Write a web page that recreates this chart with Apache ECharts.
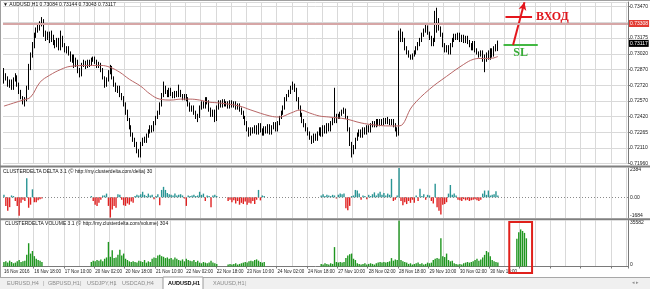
<!DOCTYPE html>
<html>
<head>
<meta charset="utf-8">
<script src="https://cdn.jsdelivr.net/npm/echarts@6.0.0/dist/echarts.min.js"></script>
<style>
html,body{margin:0;padding:0;background:#fff;overflow:hidden}
#chart{width:650px;height:289px}
</style>
</head>
<body>
<div id="chart"></div>
<script>
// ---------------- data ----------------
const symbolTitle = '▼ AUDUSD,H1 0.73084 0.73144 0.73043 0.73117';
const deltaTitle = 'CLUSTERDELTA DELTA 3.1 (© http://my.clusterdelta.com/delta) 30';
const volumeTitle = 'CLUSTERDELTA VOLUME 3.1 (© http://my.clusterdelta.com/volume) 304';

const xTickLabels = ['16 Nov 2016','16 Nov 18:00','17 Nov 10:00','20 Nov 02:00','20 Nov 18:00','21 Nov 10:00',
  '22 Nov 02:00','22 Nov 18:00','23 Nov 10:00','24 Nov 02:00','24 Nov 18:00','27 Nov 10:00','28 Nov 02:00',
  '28 Nov 18:00','29 Nov 10:00','30 Nov 02:00','30 Nov 18:00'];
const priceTickLabels = ['0.71960','0.72110','0.72265','0.72420','0.72570','0.72720','0.72870','0.73020','0.73175','','0.73470'];

// [open, close, low, high]
const candles = [
[0.7275,0.7281,0.7273,0.7288],[0.7281,0.7279,0.7276,0.7283],[0.7279,0.7272,0.7270,0.7280],[0.7272,0.7275,0.7269,0.7277],
[0.7275,0.7269,0.7267,0.7277],[0.7269,0.7277,0.7267,0.7279],[0.7277,0.7280,0.7275,0.7283],[0.7280,0.7272,0.7270,0.7281],
[0.7272,0.7265,0.7263,0.7274],[0.7265,0.7260,0.7258,0.7267],[0.7260,0.7256,0.7253,0.7261],[0.7256,0.7258,0.7251,0.7260],
[0.7258,0.7269,0.7256,0.7271],[0.7269,0.7289,0.7267,0.7292],[0.7289,0.7301,0.7286,0.7303],[0.7301,0.7310,0.7298,0.7313],
[0.7310,0.7319,0.7307,0.7322],[0.7319,0.7324,0.7317,0.7327],[0.7324,0.7327,0.7322,0.7330],[0.7327,0.7330,0.7324,0.7333],
[0.7330,0.7334,0.7328,0.7337],[0.7334,0.7320,0.7318,0.7335],[0.7320,0.7317,0.7314,0.7324],[0.7317,0.7322,0.7315,0.7323],
[0.7322,0.7315,0.7312,0.7323],[0.7315,0.7318,0.7313,0.7324],[0.7318,0.7313,0.7310,0.7320],[0.7313,0.7310,0.7307,0.7315],
[0.7310,0.7315,0.7308,0.7317],[0.7315,0.7307,0.7305,0.7317],[0.7307,0.7317,0.7305,0.7324],[0.7317,0.7310,0.7308,0.7319],
[0.7310,0.7305,0.7303,0.7312],[0.7305,0.7307,0.7302,0.7309],[0.7307,0.7302,0.7300,0.7309],[0.7302,0.7296,0.7294,0.7304],
[0.7296,0.7300,0.7293,0.7301],[0.7300,0.7291,0.7288,0.7301],[0.7291,0.7294,0.7289,0.7298],[0.7294,0.7286,0.7283,0.7296],
[0.7286,0.7280,0.7279,0.7288],[0.7280,0.7291,0.7280,0.7293],[0.7291,0.7293,0.7289,0.7296],[0.7293,0.7289,0.7287,0.7295],
[0.7289,0.7294,0.7288,0.7296],[0.7294,0.7291,0.7289,0.7296],[0.7291,0.7296,0.7290,0.7298],[0.7296,0.7298,0.7294,0.7299],
[0.7298,0.7294,0.7292,0.7299],[0.7294,0.7290,0.7288,0.7296],[0.7290,0.7292,0.7288,0.7294],[0.7292,0.7286,0.7284,0.7293],
[0.7286,0.7279,0.7277,0.7288],[0.7279,0.7271,0.7269,0.7280],[0.7271,0.7277,0.7270,0.7279],[0.7277,0.7284,0.7275,0.7286],
[0.7284,0.7289,0.7282,0.7291],[0.7289,0.7279,0.7277,0.7290],[0.7279,0.7272,0.7270,0.7280],[0.7272,0.7267,0.7265,0.7274],
[0.7267,0.7269,0.7264,0.7271],[0.7269,0.7262,0.7260,0.7271],[0.7262,0.7260,0.7257,0.7264],[0.7260,0.7253,0.7251,0.7261],
[0.7253,0.7246,0.7243,0.7255],[0.7246,0.7239,0.7237,0.7248],[0.7239,0.7231,0.7229,0.7240],[0.7231,0.7224,0.7222,0.7233],
[0.7224,0.7219,0.7217,0.7226],[0.7219,0.7215,0.7212,0.7221],[0.7215,0.7208,0.7206,0.7217],[0.7208,0.7203,0.7202,0.7210],
[0.7203,0.7215,0.7202,0.7217],[0.7215,0.7219,0.7213,0.7221],[0.7219,0.7218,0.7216,0.7222],[0.7218,0.7223,0.7216,0.7225],
[0.7223,0.7227,0.7221,0.7229],[0.7227,0.7231,0.7225,0.7233],[0.7231,0.7229,0.7226,0.7233],[0.7229,0.7235,0.7227,0.7237],
[0.7235,0.7240,0.7233,0.7242],[0.7240,0.7245,0.7239,0.7247],[0.7245,0.7253,0.7243,0.7255],[0.7253,0.7262,0.7251,0.7264],
[0.7262,0.7269,0.7260,0.7275],[0.7269,0.7265,0.7263,0.7271],[0.7265,0.7262,0.7260,0.7267],[0.7262,0.7267,0.7260,0.7269],
[0.7267,0.7263,0.7261,0.7269],[0.7263,0.7260,0.7259,0.7265],[0.7260,0.7264,0.7259,0.7266],[0.7264,0.7261,0.7260,0.7266],
[0.7261,0.7265,0.7260,0.7272],[0.7265,0.7261,0.7260,0.7267],[0.7261,0.7259,0.7257,0.7263],[0.7259,0.7261,0.7257,0.7263],
[0.7261,0.7258,0.7256,0.7263],[0.7258,0.7253,0.7251,0.7260],[0.7253,0.7248,0.7246,0.7255],[0.7248,0.7250,0.7246,0.7252],
[0.7250,0.7245,0.7243,0.7252],[0.7245,0.7240,0.7239,0.7247],[0.7240,0.7242,0.7236,0.7244],[0.7242,0.7250,0.7240,0.7252],
[0.7250,0.7254,0.7248,0.7256],[0.7254,0.7251,0.7249,0.7256],[0.7251,0.7258,0.7249,0.7260],[0.7258,0.7255,0.7253,0.7260],
[0.7255,0.7248,0.7246,0.7257],[0.7248,0.7243,0.7241,0.7250],[0.7243,0.7246,0.7241,0.7248],[0.7246,0.7239,0.7236,0.7248],
[0.7239,0.7250,0.7237,0.7252],[0.7250,0.7255,0.7248,0.7257],[0.7255,0.7252,0.7250,0.7257],[0.7252,0.7256,0.7250,0.7258],
[0.7256,0.7253,0.7251,0.7258],[0.7253,0.7254,0.7251,0.7256],[0.7254,0.7251,0.7249,0.7256],[0.7251,0.7255,0.7249,0.7257],
[0.7255,0.7252,0.7250,0.7257],[0.7252,0.7254,0.7250,0.7256],[0.7254,0.7250,0.7248,0.7256],[0.7250,0.7252,0.7248,0.7254],
[0.7252,0.7248,0.7246,0.7254],[0.7248,0.7245,0.7243,0.7250],[0.7245,0.7240,0.7239,0.7247],[0.7240,0.7235,0.7233,0.7242],
[0.7235,0.7229,0.7227,0.7237],[0.7229,0.7225,0.7222,0.7231],[0.7225,0.7229,0.7223,0.7231],[0.7229,0.7227,0.7225,0.7231],
[0.7227,0.7231,0.7225,0.7233],[0.7231,0.7226,0.7224,0.7233],[0.7226,0.7233,0.7224,0.7235],[0.7233,0.7228,0.7226,0.7235],
[0.7228,0.7225,0.7223,0.7230],[0.7225,0.7230,0.7223,0.7232],[0.7230,0.7227,0.7225,0.7232],[0.7227,0.7232,0.7225,0.7234],
[0.7232,0.7226,0.7224,0.7234],[0.7226,0.7231,0.7224,0.7233],[0.7231,0.7234,0.7229,0.7236],[0.7234,0.7229,0.7227,0.7236],
[0.7229,0.7235,0.7227,0.7237],[0.7235,0.7240,0.7233,0.7242],[0.7240,0.7245,0.7239,0.7247],[0.7245,0.7250,0.7243,0.7252],
[0.7250,0.7258,0.7248,0.7260],[0.7258,0.7261,0.7256,0.7263],[0.7261,0.7265,0.7260,0.7267],[0.7265,0.7269,0.7263,0.7271],
[0.7269,0.7272,0.7267,0.7275],[0.7272,0.7267,0.7265,0.7273],[0.7267,0.7258,0.7256,0.7269],[0.7258,0.7250,0.7248,0.7260],
[0.7250,0.7243,0.7241,0.7252],[0.7243,0.7237,0.7235,0.7245],[0.7237,0.7233,0.7231,0.7239],[0.7233,0.7229,0.7227,0.7235],
[0.7229,0.7225,0.7223,0.7231],[0.7225,0.7221,0.7219,0.7227],[0.7221,0.7218,0.7215,0.7223],[0.7218,0.7223,0.7216,0.7225],
[0.7223,0.7219,0.7218,0.7225],[0.7219,0.7225,0.7218,0.7227],[0.7225,0.7229,0.7223,0.7231],[0.7229,0.7224,0.7222,0.7231],
[0.7224,0.7231,0.7222,0.7233],[0.7231,0.7227,0.7225,0.7233],[0.7227,0.7233,0.7225,0.7235],[0.7233,0.7229,0.7227,0.7235],
[0.7229,0.7235,0.7227,0.7237],[0.7235,0.7239,0.7233,0.7240],[0.7239,0.7237,0.7235,0.7269],[0.7237,0.7242,0.7235,0.7244],
[0.7242,0.7240,0.7239,0.7244],[0.7240,0.7244,0.7239,0.7246],[0.7244,0.7246,0.7242,0.7248],[0.7246,0.7248,0.7244,0.7250],
[0.7248,0.7240,0.7239,0.7249],[0.7240,0.7229,0.7227,0.7242],[0.7229,0.7215,0.7213,0.7231],[0.7215,0.7208,0.7202,0.7217],
[0.7208,0.7212,0.7205,0.7214],[0.7212,0.7219,0.7210,0.7221],[0.7219,0.7224,0.7218,0.7226],[0.7224,0.7227,0.7222,0.7229],
[0.7227,0.7223,0.7221,0.7229],[0.7223,0.7229,0.7221,0.7231],[0.7229,0.7226,0.7224,0.7231],[0.7226,0.7231,0.7224,0.7233],
[0.7231,0.7228,0.7226,0.7233],[0.7228,0.7233,0.7226,0.7235],[0.7233,0.7235,0.7231,0.7237],[0.7235,0.7233,0.7231,0.7237],
[0.7233,0.7237,0.7231,0.7239],[0.7237,0.7234,0.7232,0.7239],[0.7234,0.7238,0.7232,0.7239],[0.7238,0.7235,0.7233,0.7239],
[0.7235,0.7239,0.7233,0.7240],[0.7239,0.7236,0.7234,0.7240],[0.7236,0.7238,0.7234,0.7241],[0.7238,0.7235,0.7233,0.7239],
[0.7235,0.7237,0.7233,0.7239],[0.7237,0.7233,0.7231,0.7239],[0.7233,0.7229,0.7227,0.7235],[0.7229,0.7225,0.7222,0.7231],
[0.7225,0.7315,0.7223,0.7324],[0.7315,0.7322,0.7313,0.7326],[0.7322,0.7315,0.7313,0.7323],[0.7315,0.7307,0.7305,0.7317],
[0.7307,0.7303,0.7301,0.7309],[0.7303,0.7300,0.7298,0.7305],[0.7300,0.7298,0.7296,0.7301],[0.7298,0.7301,0.7296,0.7302],
[0.7301,0.7303,0.7299,0.7305],[0.7303,0.7307,0.7301,0.7309],[0.7307,0.7311,0.7305,0.7313],[0.7311,0.7315,0.7309,0.7317],
[0.7315,0.7320,0.7313,0.7322],[0.7320,0.7324,0.7318,0.7326],[0.7324,0.7327,0.7322,0.7331],[0.7327,0.7322,0.7320,0.7329],
[0.7322,0.7317,0.7315,0.7323],[0.7317,0.7311,0.7309,0.7319],[0.7311,0.7315,0.7309,0.7317],[0.7315,0.7324,0.7313,0.7343],
[0.7324,0.7334,0.7322,0.7346],[0.7334,0.7326,0.7324,0.7336],[0.7326,0.7320,0.7318,0.7328],[0.7320,0.7310,0.7308,0.7322],
[0.7310,0.7305,0.7303,0.7312],[0.7305,0.7308,0.7303,0.7310],[0.7308,0.7303,0.7301,0.7310],[0.7303,0.7310,0.7301,0.7312],
[0.7310,0.7315,0.7308,0.7317],[0.7315,0.7319,0.7313,0.7321],[0.7319,0.7317,0.7315,0.7321],[0.7317,0.7320,0.7315,0.7322],
[0.7320,0.7315,0.7313,0.7322],[0.7315,0.7318,0.7313,0.7320],[0.7318,0.7314,0.7312,0.7320],[0.7314,0.7317,0.7312,0.7319],
[0.7317,0.7313,0.7311,0.7319],[0.7313,0.7310,0.7308,0.7315],[0.7310,0.7307,0.7305,0.7312],[0.7307,0.7312,0.7305,0.7314],
[0.7312,0.7305,0.7303,0.7314],[0.7305,0.7302,0.7301,0.7307],[0.7302,0.7301,0.7298,0.7304],[0.7301,0.7303,0.7299,0.7305],
[0.7303,0.7298,0.7294,0.7305],[0.7298,0.7296,0.7284,0.7301],[0.7296,0.7301,0.7294,0.7303],[0.7301,0.7299,0.7296,0.7305],
[0.7299,0.7305,0.7296,0.7307],[0.7305,0.7301,0.7298,0.7307],[0.7301,0.7307,0.7299,0.7309],[0.7307,0.7308,0.7304,0.7311],
[0.73084,0.73117,0.73043,0.73144]
];

// moving average, read at selected bars
const maBars   = [0,5,10,14,19,24,30,35,45,51,56,61,66,72,77,82,88,93,98,103,108,114,124,130,140,145,151,156,161,166,171,180,188,195,203,208,215,224,233,242,247,251,256,260];
const maValues = [0.72514,0.72543,0.72572,0.72600,0.72743,0.72810,0.72867,0.72896,0.72905,0.72905,0.72886,0.72839,0.72772,0.72705,0.72629,0.72581,0.72572,0.72581,0.72581,0.72572,0.72552,0.72543,0.72514,0.72476,0.72419,0.72409,0.72447,0.72476,0.72447,0.72419,0.72409,0.72390,0.72352,0.72333,0.72323,0.72323,0.72514,0.72676,0.72800,0.72915,0.72963,0.72972,0.72972,0.72991];

const noData = n => Array(n).fill(null);

const delta = [
200,-700,-1100,-800,150,100,-300,-700,-1500,-450,-200,-300,1550,-850,-600,650,-400,-400,-250,-150,-100,
...noData(25),
100,-300,-600,-700,-450,-200,150,150,300,-700,-1650,-1000,-700,-850,250,200,-200,-650,-700,-500,-600,-350,-450,
100,200,150,250,450,200,100,300,150,200,-150,100,250,-650,600,850,600,350,250,200,150,300,150,200,250,150,-100,-700,
150,100,150,200,100,150,450,200,300,-300,150,100,-800,150,200,100,
...noData(5),
-300,-200,-400,-250,-500,-300,-600,-450,-550,-350,-600,-450,-500,-300,-550,-200,600,-250,150,100,
...noData(29),
150,250,100,200,150,100,200,150,-100,200,300,250,300,
-900,-1050,-700,100,150,600,550,300,-200,150,100,-150,200,100,250,400,150,300,450,200,350,150,300,200,1500,-300,-200,150,
2384,-300,-650,-400,-550,-300,-450,-200,-450,150,-300,700,100,250,-200,200,150,-300,-500,1100,-800,-1100,-1400,-600,-550,-400,
300,1000,200,300,150,-200,-250,-300,-150,-250,-200,-300,-250,-200,-150,-250,-300,-200,300,550,200,550,150,200,250,500,150
];

const volume = [
3500,4000,3000,4500,3500,2500,3000,4000,5000,3500,4000,4500,9000,18000,10000,12000,8000,6000,5000,4500,3500,
...noData(25),
3500,4500,4000,5000,4500,5500,4000,6000,7000,19000,7500,12500,6500,7000,9000,13000,8500,10000,6000,5000,4000,3500,4000,3500,
3000,4500,4000,3500,5000,3000,4000,3500,6000,7000,6500,8500,9000,8000,7500,6500,7000,6000,6500,5500,7000,6000,5000,4500,5500,
4000,6000,5000,4500,4000,5000,3500,4500,3000,2500,3500,3000,2500,3000,4500,3000,2500,2000,
...noData(5),
1500,2000,1500,2000,2500,1500,2000,2500,3000,3500,3000,4000,4500,4000,5000,5500,4500,3500,3000,3500,
...noData(29),
2000,1500,2500,2000,1500,2500,2000,15000,3500,3000,3500,3000,3500,6500,8500,9500,10000,6000,5000,2500,2000,1500,2000,2500,
1500,2000,2500,2000,1500,2500,3000,3500,3000,3500,3000,3500,4000,6500,4500,5500,5000,35582,5000,4000,3500,3000,2000,2500,
1500,2000,2500,3000,2000,2500,1500,2000,3000,2500,3000,5000,6000,6500,6000,21800,8000,7300,10000,5000,4000,4500,2500,2000,
1500,2000,1500,2500,3000,3500,3000,3500,4000,5000,6000,4500,5500,7000,9000,12000,11000,8000,5000,4000,3500,3000
];
// hand-drawn projected volume inside the red box
const volumeForecast = [21500,26500,28700,27500,26000,21800];

const horizontalLevel = 0.73308;
const lastPrice = 0.73117;
const entryLevel = 0.73371;
const stopLevel = 0.73102;
const arrowTop = 0.73512;

const tabNames = ['EURUSD,H4','GBPUSD,H1','USDJPY,H1','USDCAD,H4','AUDUSD,H1','XAUUSD,H1'];
const activeTab = 'AUDUSD,H1';

// ---------------- axes scale settings ----------------
const barsOnScreen = 329, barsPerLabel = 16, barsPerGrid = 8, forecastStart = 270;
const priceMin = 0.7196, priceMax = 0.73515, priceStep = 0.00151;
const deltaMin = -1684, deltaMax = 2384, volumeMax = 35582;

const FONT = 'Liberation Sans, Arial, sans-serif';
const SERIF = 'Liberation Serif, DejaVu Serif, serif';
const GRID = '#d9d9d9', AXIS = '#7a7a7a', TXT = '#1a1a1a';

const cats = Array.from({length: barsOnScreen}, (_, i) => String(i));
const volumeData = volume.concat(noData(forecastStart - volume.length), volumeForecast);
const maData = maBars.map((b, i) => [b, maValues[i]]);

function makeX(gridIndex, showLabels) {
  return {
    type: 'category', gridIndex, data: cats, boundaryGap: true,
    axisLine: {show: showLabels, lineStyle: {color: AXIS, width: 1}},
    axisTick: {show: showLabels, interval: i => i > 0 && i % barsPerLabel === 0, length: 2, lineStyle: {color: AXIS}},
    axisLabel: {
      show: showLabels,
      interval: i => i % barsPerLabel === 0 && i / barsPerLabel < xTickLabels.length,
      formatter: (v, i) => xTickLabels[Math.round(i / barsPerLabel)] || '',
      fontSize: 4.5, color: TXT, fontFamily: FONT, align: 'left', margin: 3
    },
    splitLine: {show: true, interval: i => i > 0 && i % barsPerGrid === 0, lineStyle: {color: GRID, width: 1}}
  };
}

const smallLabel = {fontSize: 5, color: TXT, fontFamily: FONT};
const priceBox = bg => ({show: true, position: 'end', distance: 1, formatter: p => Number(p.value).toFixed(5),
  color: '#fff', backgroundColor: bg, fontSize: 5, fontFamily: FONT, padding: [1, 1, 0, 1], lineHeight: 6});

const option = {
  animation: false,
  backgroundColor: '#ffffff',
  title: [
    {text: symbolTitle, left: 3, top: 2.5, padding: 0, textStyle: {fontSize: 5, fontWeight: 'normal', color: '#111', fontFamily: FONT}},
    {text: deltaTitle, left: 3, top: 169, padding: 0, textStyle: {fontSize: 5, fontWeight: 'normal', color: '#111', fontFamily: FONT}},
    {text: volumeTitle, left: 5, top: 221.5, padding: 0, textStyle: {fontSize: 5, fontWeight: 'normal', color: '#111', fontFamily: FONT}}
  ],
  grid: [
    {left: 3, right: 22, top: 2, height: 161.7, outerBoundsMode: 'none'},
    {left: 3, right: 22, top: 168, height: 50, outerBoundsMode: 'none'},
    {left: 3, right: 22, top: 220.5, height: 46, outerBoundsMode: 'none'}
  ],
  xAxis: [makeX(0, false), makeX(1, false), makeX(2, true)],
  yAxis: [
    {
      type: 'value', gridIndex: 0, position: 'right', min: priceMin, max: priceMax, interval: priceStep,
      axisLine: {show: true, lineStyle: {color: AXIS}},
      axisTick: {show: true, length: 2, lineStyle: {color: AXIS}},
      axisLabel: Object.assign({margin: 2, showMaxLabel: false,
        formatter: v => priceTickLabels[Math.round((v - priceMin) / priceStep)] || ''}, smallLabel),
      splitLine: {show: true, lineStyle: {color: GRID, width: 1}}
    },
    {
      type: 'value', gridIndex: 1, position: 'right', min: deltaMin, max: deltaMax, interval: -deltaMin,
      axisLine: {show: true, lineStyle: {color: AXIS}},
      axisTick: {show: false},
      axisLabel: Object.assign({margin: 2, showMaxLabel: true, showMinLabel: true,
        formatter: v => v === 0 ? '0.00' : v === deltaMax ? '{t|' + v + '}' : v === deltaMin ? '{b|' + v + '}' : '',
        rich: {t: Object.assign({padding: [4, 0, 0, 0]}, smallLabel), b: Object.assign({padding: [0, 0, 4, 0]}, smallLabel)}
      }, smallLabel),
      splitLine: {show: false}
    },
    {
      type: 'value', gridIndex: 2, position: 'right', min: 0, max: volumeMax, interval: volumeMax,
      axisLine: {show: true, lineStyle: {color: AXIS}},
      axisTick: {show: false},
      axisLabel: Object.assign({margin: 2, showMaxLabel: true, showMinLabel: true,
        formatter: v => v === 0 ? '{b|0}' : '{t|' + v + '}',
        rich: {t: Object.assign({padding: [4, 0, 0, 0]}, smallLabel), b: Object.assign({padding: [0, 0, 4, 0]}, smallLabel)}
      }, smallLabel),
      splitLine: {show: false}
    }
  ],
  series: [
    {
      type: 'candlestick', xAxisIndex: 0, yAxisIndex: 0, data: candles, barWidth: 1,
      itemStyle: {color: '#ffffff', color0: '#000000', borderColor: '#000000', borderColor0: '#000000', borderWidth: 1},
      markLine: {
        silent: true, animation: false, symbol: ['none', 'none'], precision: 5,
        data: [
          [{coord: [264, entryLevel], lineStyle: {color: '#e4161c', width: 2, type: 'solid'},
            label: {show: true, position: 'end', distance: 4, formatter: 'ВХОД', color: '#e0161c', fontSize: 12,
                    fontWeight: 'bold', fontFamily: SERIF}},
           {coord: [278, entryLevel]}],
          [{coord: [263, stopLevel], lineStyle: {color: '#43b843', width: 2, type: 'solid'},
            label: {show: true, position: 'insideMiddleBottom', distance: 2, formatter: 'SL', color: '#38ad38', fontSize: 12,
                    fontWeight: 'bold', fontFamily: SERIF}},
           {coord: [281, stopLevel]}],
          [{coord: [268, stopLevel], lineStyle: {color: '#e4161c', width: 2, type: 'solid'}, label: {show: false}},
           {coord: [274, arrowTop], symbol: 'arrow', symbolSize: [6, 8]}]
        ]
      }
    },
    {
      type: 'line', xAxisIndex: 0, yAxisIndex: 0, data: maData, showSymbol: false, smooth: 0.4,
      lineStyle: {color: '#b86666', width: 1}, silent: true,
      markLine: {
        silent: true, animation: false, symbol: ['none', 'none'], precision: 5,
        data: [
          {yAxis: horizontalLevel, lineStyle: {color: '#d6a6a6', width: 2, type: 'solid'}, label: priceBox('#e23b32')},
          {yAxis: lastPrice, lineStyle: {color: 'rgba(255,255,255,0)', width: 1, type: 'solid'}, label: priceBox('#000000')}
        ]
      }
    },
    {
      type: 'bar', xAxisIndex: 1, yAxisIndex: 1, data: delta, barWidth: 1.4,
      itemStyle: {color: p => (p.value >= 0 ? '#2a9595' : '#e02222')},
      markLine: {silent: true, symbol: ['none', 'none'], label: {show: false},
                 lineStyle: {color: '#8a8a8a', width: 1, type: [1, 2]}, data: [{yAxis: 0}]}
    },
    {
      type: 'bar', xAxisIndex: 2, yAxisIndex: 2, data: volumeData, barWidth: 1.4,
      itemStyle: {color: '#1f961f'}
    }
  ]
};

const chart = echarts.init(document.getElementById('chart'), null, {renderer: 'canvas'});
chart.setOption(option);

// red box drawn around the forecast volume, placed through the volume axes
const boxA = chart.convertToPixel({xAxisIndex: 2, yAxisIndex: 2}, [266, 34400]);
const boxB = chart.convertToPixel({xAxisIndex: 2, yAxisIndex: 2}, [278, -5000]);

const tabX = [7, 48, 87, 122, 168, 213];
const sepX = [43, 80, 114, 245];
const graphics = [
  {type: 'rect', z: 50, shape: {x: 0, y: 0, width: 650, height: 1}, style: {fill: '#a0a0a0'}},
  {type: 'rect', z: 50, shape: {x: 0, y: 0, width: 1, height: 277}, style: {fill: '#a0a0a0'}},
  {type: 'rect', z: 50, shape: {x: 0, y: 165.4, width: 650, height: 2}, style: {fill: '#808080'}},
  {type: 'rect', z: 50, shape: {x: 0, y: 218.3, width: 650, height: 2}, style: {fill: '#808080'}},
  {type: 'rect', z: 50, shape: {x: 0, y: 277, width: 650, height: 12}, style: {fill: '#f0f0f0'}},
  {type: 'rect', z: 51, shape: {x: 0, y: 277, width: 650, height: 1}, style: {fill: '#a8a8a8'}},
  {type: 'rect', z: 52, shape: {x: 163, y: 277, width: 40, height: 13}, style: {fill: '#ffffff', stroke: '#9a9a9a', lineWidth: 1}},
  {type: 'rect', z: 60, shape: {x: boxA[0], y: boxA[1], width: boxB[0] - boxA[0], height: boxB[1] - boxA[1]},
   style: {fill: 'none', stroke: '#e0201b', lineWidth: 2}},
  {type: 'text', z: 53, x: 632, y: 283, style: {text: '◂ ▸', fontSize: 5, fill: '#909090', fontFamily: FONT, verticalAlign: 'middle'}}
];
tabNames.forEach((name, i) => {
  const active = name === activeTab;
  graphics.push({type: 'text', z: 53, x: tabX[i], y: 283.5,
    style: {text: name, fontSize: 5.5, fill: active ? '#000' : '#8a8a8a', fontWeight: active ? 'bold' : 'normal',
            fontFamily: FONT, verticalAlign: 'middle'}});
});
sepX.forEach(x => graphics.push({type: 'text', z: 53, x, y: 283.5,
  style: {text: '|', fontSize: 6, fill: '#a0a0a0', fontFamily: FONT, verticalAlign: 'middle'}}));

chart.setOption({graphic: graphics});
</script>
</body>
</html>
